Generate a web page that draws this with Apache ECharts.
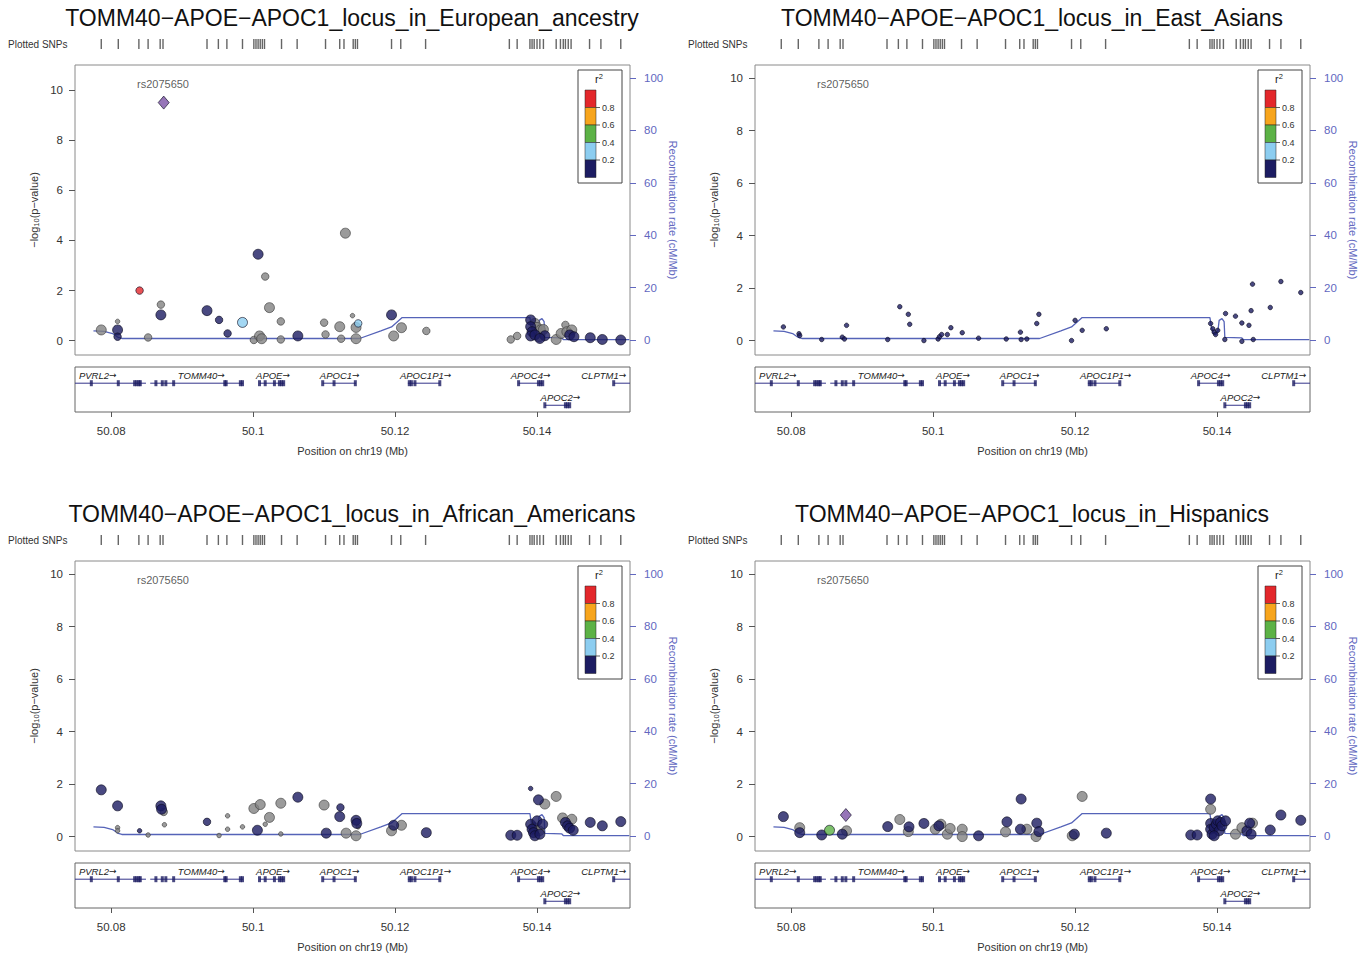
<!DOCTYPE html>
<html><head><meta charset="utf-8">
<script src="https://cdn.jsdelivr.net/npm/echarts@6/dist/echarts.min.js"></script>
<style>html,body{margin:0;padding:0;background:#fff}#c{width:1370px;height:955px}</style>
</head><body><div id="c"></div>
<script>
// ---------------- DATA ----------------
const panelTitles = [
  'TOMM40\u2212APOE\u2212APOC1_locus_in_European_ancestry',
  'TOMM40\u2212APOE\u2212APOC1_locus_in_East_Asians',
  'TOMM40\u2212APOE\u2212APOC1_locus_in_African_Americans',
  'TOMM40\u2212APOE\u2212APOC1_locus_in_Hispanics'
];
const refSnpName = 'rs2075650';
const refSnpPos = 50.0873;
const xTicks = [50.08, 50.1, 50.12, 50.14];
const pTicks = [0, 2, 4, 6, 8, 10];
const recombTicks = [0, 20, 40, 60, 80, 100];
const r2Breaks = [0.8, 0.6, 0.4, 0.2];

const plottedSnps = [50.0786,50.0810,50.0839,50.0852,50.0869,50.0873,50.0935,50.0951,50.0963,50.0985,
  50.1001,50.1004,50.1007,50.1010,50.1013,50.1016,50.1040,50.1062,50.1102,50.1122,50.1128,50.1141,
  50.1144,50.1147,50.1195,50.1208,50.1243,50.1361,50.1372,50.1390,50.1393,50.1396,50.1400,50.1404,
  50.1409,50.1427,50.1433,50.1437,50.1440,50.1444,50.1448,50.1474,50.1490,50.1518];

const recombPos  = [50.0775,50.0790,50.0802,50.0810,50.0815,50.1150,50.1180,50.1195,50.1210,50.1390,50.1392,50.1395,50.1398,50.1401,50.1403,50.1407,50.1410,50.1411,50.1435,50.1437,50.1530];
const recombRate = [3.5,    3.3,    2.5,    1.0,    0.6,    0.6,    3.5,    5.0,    8.6,    8.6,    5.0,    2.5,    2.0,    3.0,    7.5,    8.2,    7.0,    1.0,    0.8,    0.2,    0.2];

const geneNames   = ['PVRL2','TOMM40','APOE','APOC1','APOC1P1','APOC4','APOC2','CLPTM1'];
const geneStart   = [50.0700,50.0855,50.1009,50.1098,50.1218,50.1374,50.1411,50.1508];
const geneEnd     = [50.0849,50.0986,50.1044,50.1145,50.1263,50.1408,50.1446,50.1600];
const geneRow     = [0,0,0,0,0,0,1,0];
const geneLabelAt = [50.0781,50.0927,50.1028,50.1122,50.1243,50.1391,50.1433,50.1494];
const exonPos = [50.0772,50.0810,50.0833,50.0836,50.0839,50.0841,
  50.0863,50.0872,50.0877,50.0888,50.0960,50.0962,50.0982,50.0985,
  50.1009,50.1017,50.1030,50.1037,50.1040,50.1043,
  50.1098,50.1114,50.1144,
  50.1220,50.1223,50.1228,50.1263,
  50.1374,50.1402,50.1405,50.1408,
  50.1411,50.1440,50.1443,50.1446,
  50.1508];
const exonRow = [0,0,0,0,0,0, 0,0,0,0,0,0,0,0, 0,0,0,0,0,0, 0,0,0, 0,0,0,0, 0,0,0,0, 1,1,1,1, 0];

// points: [position (Mb), -log10 p, r2 class ('na' | 0..4 | 'ref'), marker weight class 1..3]
const eurPoints = [
  [50.0786,0.43,'na',3],[50.0809,0.77,'na',1],[50.0809,0.43,0,3],[50.0809,0.16,0,2],[50.0840,2.0,4,2],
  [50.0852,0.13,'na',2],[50.0870,1.44,'na',2],[50.0870,1.03,0,3],[50.0874,9.5,'ref',3],[50.0935,1.2,0,3],
  [50.0952,0.83,0,2],[50.0964,0.29,0,2],[50.0985,0.73,1,3],[50.1001,0.03,'na',2],[50.1007,3.45,0,3],
  [50.1009,0.19,'na',3],[50.1012,0.08,'na',3],[50.1017,2.56,'na',2],[50.1023,1.32,'na',3],[50.1039,0.77,'na',2],
  [50.1039,0.05,'na',2],[50.1063,0.19,0,3],[50.1100,0.72,'na',2],[50.1102,0.25,'na',2],[50.1122,0.56,'na',3],
  [50.1124,0.08,'na',2],[50.1130,4.29,'na',3],[50.1140,1.0,'na',1],[50.1145,0.53,'na',3],[50.1148,0.69,1,2],
  [50.1145,0.08,'na',3],[50.1195,1.03,0,3],[50.1198,0.19,'na',3],[50.1209,0.52,'na',3],[50.1244,0.39,'na',2],
  [50.1363,0.05,'na',2],[50.1372,0.19,'na',2],[50.1391,0.83,0,3],[50.1391,0.56,0,3],[50.1393,0.36,0,3],
  [50.1391,0.19,0,3],[50.1397,0.69,'na',3],[50.1400,0.53,'na',3],[50.1405,0.43,'na',3],[50.1403,0.16,'na',3],
  [50.1397,0.23,0,3],[50.1409,0.45,'na',3],[50.1411,0.2,0,3],[50.1404,0.09,0,3],[50.1427,0.05,'na',3],
  [50.1434,0.29,'na',3],[50.1440,0.63,'na',2],[50.1442,0.36,'na',3],[50.1446,0.23,0,3],[50.1449,0.43,'na',3],
  [50.1452,0.16,0,3],[50.1475,0.12,0,3],[50.1492,0.05,0,3],[50.1518,0.03,0,3]
];
const asnPoints = [
  [50.0789,0.52,0,1],[50.0811,0.26,0,1],[50.0812,0.19,0,1],[50.0843,0.04,0,1],[50.0872,0.13,0,1],
  [50.0875,0.06,0,1],[50.0878,0.58,0,1],[50.0936,0.04,0,1],[50.0953,1.29,0,1],[50.0965,1.0,0,1],
  [50.0967,0.62,0,1],[50.0987,0.0,0,1],[50.1007,0.06,0,1],[50.1009,0.15,0,1],[50.1012,0.23,0,1],
  [50.1020,0.23,0,1],[50.1025,0.49,0,1],[50.1041,0.3,0,1],[50.1064,0.09,0,1],[50.1103,0.06,0,1],
  [50.1123,0.32,0,1],[50.1124,0.04,0,1],[50.1132,0.06,0,1],[50.1146,0.65,0,1],[50.1149,1.0,0,1],
  [50.1195,0.0,0,1],[50.1200,0.77,0,1],[50.1210,0.39,0,1],[50.1244,0.45,0,1],[50.1391,0.65,0,1],
  [50.1394,0.45,0,1],[50.1396,0.32,0,1],[50.1398,0.23,0,1],[50.1401,0.39,0,1],[50.1412,1.03,0,1],
  [50.1411,0.04,0,1],[50.1426,0.93,0,1],[50.1435,0.67,0,1],[50.1435,-0.03,0,1],[50.1445,0.58,0,1],
  [50.1448,1.14,0,1],[50.1450,2.15,0,1],[50.1451,0.04,0,1],[50.1475,1.26,0,1],[50.1490,2.25,0,1],
  [50.1518,1.83,0,1]
];
const afrPoints = [
  [50.0786,1.78,0,3],[50.0809,1.17,0,3],[50.0809,0.34,'na',1],[50.0809,0.22,'na',1],[50.0840,0.22,0,1],
  [50.0852,0.06,'na',1],[50.0870,1.17,0,3],[50.0871,1.04,0,3],[50.0874,0.94,'na',2],[50.0875,0.45,'na',1],
  [50.0935,0.56,0,2],[50.0952,0.04,'na',1],[50.0964,0.79,'na',1],[50.0964,0.28,'na',1],[50.0985,0.37,'na',1],
  [50.1001,1.07,'na',3],[50.1010,1.22,'na',3],[50.1006,0.24,0,3],[50.1017,0.47,'na',1],[50.1023,0.73,'na',3],
  [50.1039,1.27,'na',3],[50.1039,0.1,'na',1],[50.1063,1.5,0,3],[50.1100,1.2,'na',3],[50.1123,1.11,0,2],
  [50.1122,0.76,0,3],[50.1103,0.13,0,3],[50.1131,0.13,'na',3],[50.1145,0.62,0,3],[50.1146,0.5,0,3],
  [50.1148,0.37,'na',1],[50.1145,0.03,'na',3],[50.1195,0.22,'na',3],[50.1198,0.43,0,3],[50.1209,0.43,'na',3],
  [50.1244,0.15,0,3],[50.1363,0.05,0,3],[50.1372,0.05,0,3],[50.1391,1.83,0,1],[50.1402,1.4,0,3],
  [50.1411,1.24,'na',3],[50.1427,1.53,'na',3],[50.1391,0.47,0,3],[50.1393,0.28,0,3],[50.1395,0.15,0,3],
  [50.1397,0.03,0,3],[50.1396,0.34,'na',3],[50.1400,0.6,0,3],[50.1403,0.22,'na',3],[50.1404,0.09,0,3],
  [50.1408,0.47,0,3],[50.1436,0.71,'na',3],[50.1440,0.54,0,3],[50.1443,0.41,0,3],[50.1449,0.66,'na',3],
  [50.1446,0.32,0,3],[50.1451,0.24,0,3],[50.1475,0.54,0,3],[50.1492,0.41,0,3],[50.1518,0.57,0,3]
];
const hisPoints = [
  [50.0789,0.76,0,3],[50.0812,0.34,'na',3],[50.0812,0.15,0,3],[50.0843,0.06,0,3],[50.0854,0.24,2,3],
  [50.0872,0.09,0,3],[50.0878,0.22,'na',3],[50.0877,0.82,'ref',3],[50.0936,0.38,0,3],[50.0953,0.65,'na',3],
  [50.0966,0.37,0,3],[50.0965,0.19,'na',3],[50.0987,0.5,0,3],[50.1003,0.28,'na',3],[50.1008,0.41,0,3],
  [50.1011,0.47,'na',3],[50.1020,0.09,'na',3],[50.1024,0.31,'na',3],[50.1041,0.28,'na',3],[50.1041,0.0,'na',3],
  [50.1064,0.03,0,3],[50.1102,0.18,'na',3],[50.1104,0.56,0,3],[50.1123,0.28,0,3],[50.1124,1.43,0,3],
  [50.1132,0.28,'na',3],[50.1145,0.0,'na',3],[50.1146,0.51,0,3],[50.1149,0.19,0,3],[50.1196,0.03,'na',3],
  [50.1199,0.09,0,3],[50.1210,1.53,'na',3],[50.1244,0.13,0,3],[50.1363,0.06,0,3],[50.1372,0.06,0,3],
  [50.1391,1.04,'na',3],[50.1391,1.43,0,3],[50.1391,0.5,0,3],[50.1391,0.28,0,3],[50.1393,0.09,0,3],
  [50.1396,0.34,0,3],[50.1399,0.47,0,3],[50.1401,0.6,0,3],[50.1405,0.54,0,3],[50.1403,0.22,0,3],
  [50.1407,0.41,0,3],[50.1412,0.6,0,3],[50.1396,0.03,0,3],[50.1426,0.09,'na',3],[50.1435,0.34,'na',3],
  [50.1442,0.22,0,3],[50.1446,0.51,0,3],[50.1450,0.51,'na',3],[50.1448,0.09,0,3],[50.1475,0.25,0,3],
  [50.1490,0.82,0,3],[50.1518,0.62,0,3]
];

// ---------------- LAYOUT / STYLE ----------------
const FONT = '"Liberation Sans", Arial, Helvetica, sans-serif';
const X0 = 50.0749, X1 = 50.1531;
const colorOf = {na:'#828282', 0:'#1c1c62', 1:'#8ccdf0', 2:'#5cb246', 3:'#f7a51d', 4:'#e3272b', ref:'#7c53a6'};
const legendColors = ['#e3272b','#f7a51d','#5cb246','#8ccdf0','#1c1c62'];
const sizeOf = {1:4.5, 2:7.5, 3:10};
const rowY = [0.64, 0.15];
const order = {na:0, 0:1, 1:2, 2:3, 3:4, 4:5, ref:6};
const BLUE = '#6268bf';

const panels = [
  {title:panelTitles[0], pts:eurPoints, ox:0,   oy:0,   ymin:-0.57, ymax:11.0},
  {title:panelTitles[1], pts:asnPoints, ox:680, oy:0,   ymin:-0.55, ymax:10.5},
  {title:panelTitles[2], pts:afrPoints, ox:0,   oy:496, ymin:-0.55, ymax:10.5},
  {title:panelTitles[3], pts:hisPoints, ox:680, oy:496, ymin:-0.55, ymax:10.5}
];

function pointItem(p){
  const [x,y,ld,w] = p;
  const ref = ld === 'ref';
  return {
    value:[x,y],
    symbol: ref ? 'diamond' : 'circle',
    symbolSize: ref ? [11,13] : sizeOf[w],
    itemStyle:{color:colorOf[ld], borderColor: ld==='na' ? '#3a3a3a' : '#0a0a1e', borderWidth:0.8}
  };
}

const grid=[], xAxis=[], yAxis=[], series=[], graphic=[];
panels.forEach((P,i)=>{
  const ox=P.ox, oy=P.oy, gi=3*i, yi=4*i;
  grid.push({left:75+ox, top:39+oy, width:555, height:10, show:false});
  grid.push({left:75+ox, top:65+oy, width:555, height:290, show:true, borderColor:'#8a8a8a', borderWidth:1, backgroundColor:'transparent'});
  grid.push({left:75+ox, top:367+oy, width:555, height:45, show:true, borderColor:'#666', borderWidth:1, backgroundColor:'transparent'});
  const baseX = {type:'value', min:X0, max:X1, axisLine:{show:false}, axisTick:{show:false}, axisLabel:{show:false}, splitLine:{show:false}};
  xAxis.push(Object.assign({}, baseX, {gridIndex:gi}));
  xAxis.push(Object.assign({}, baseX, {gridIndex:gi+1}));
  xAxis.push(Object.assign({}, baseX, {gridIndex:gi+2,
    axisTick:{show:true, customValues:xTicks, length:5, lineStyle:{color:'#555'}},
    axisLabel:{show:true, customValues:xTicks, margin:13, fontSize:11.5, color:'#333', fontFamily:FONT,
      formatter:v=>String(+(+v).toFixed(2))},
    name:'Position on chr19 (Mb)', nameLocation:'middle', nameGap:33,
    nameTextStyle:{fontSize:11, color:'#333', fontFamily:FONT}}));

  yAxis.push({type:'value', gridIndex:gi, min:0, max:1, show:false});
  yAxis.push({type:'value', gridIndex:gi+1, position:'left', min:P.ymin, max:P.ymax,
    axisLine:{show:false}, splitLine:{show:false},
    axisTick:{show:true, customValues:pTicks, length:6, lineStyle:{color:'#555'}},
    axisLabel:{customValues:pTicks, margin:12, fontSize:11.5, color:'#333', fontFamily:FONT},
    name:'\u2212log{s|10}(p\u2212value)', nameLocation:'middle', nameGap:35,
    nameTextStyle:{fontSize:11, color:'#333', fontFamily:FONT,
      rich:{s:{fontSize:7.5, color:'#333', fontFamily:FONT, padding:[5,0,0,0]}}}});
  yAxis.push({type:'value', gridIndex:gi+1, position:'right', min:-5.7, max:105,
    axisLine:{show:false}, splitLine:{show:false},
    axisTick:{show:true, customValues:recombTicks, length:6, lineStyle:{color:BLUE}},
    axisLabel:{customValues:recombTicks, margin:14, fontSize:11.5, color:BLUE, fontFamily:FONT},
    name:'Recombination rate (cM/Mb)', nameLocation:'middle', nameGap:34, nameRotate:-90,
    nameTextStyle:{fontSize:11, color:BLUE, fontFamily:FONT}});
  yAxis.push({type:'value', gridIndex:gi+2, min:0, max:1, show:false});

  series.push({type:'scatter', xAxisIndex:gi, yAxisIndex:yi, silent:true, animation:false,
    data: plottedSnps.map(x=>[x,0.5]), symbol:'rect', symbolSize:[1.4,10], itemStyle:{color:'#3f3f3f'}});
  series.push({type:'line', xAxisIndex:gi+1, yAxisIndex:yi+2, silent:true, animation:false, z:2,
    data: recombPos.map((x,k)=>[x,recombRate[k]]), showSymbol:false, symbol:'none',
    lineStyle:{color:'#5563b8', width:1.3}});
  const sorted = P.pts.slice().sort((a,b)=>order[a[2]]-order[b[2]]);
  series.push({type:'scatter', xAxisIndex:gi+1, yAxisIndex:yi+1, silent:true, animation:false, z:3,
    data: sorted.map(pointItem)});
  const labelY = P.ymax - (84-65)/290*(P.ymax-P.ymin);
  series.push({type:'scatter', xAxisIndex:gi+1, yAxisIndex:yi+1, silent:true, animation:false, z:4,
    data:[[refSnpPos, labelY]], symbolSize:1, itemStyle:{color:'transparent'},
    label:{show:true, position:'inside', formatter:refSnpName, fontSize:11, color:'#333', fontFamily:FONT}});
  series.push({type:'custom', xAxisIndex:gi+2, yAxisIndex:yi+3, silent:true, animation:false,
    data: geneNames.map((n,k)=>[geneStart[k], geneEnd[k], rowY[geneRow[k]], geneLabelAt[k], k]),
    renderItem:(params, api)=>{
      const k = api.value(4), y = api.value(2);
      const a = api.coord([api.value(0), y]), b = api.coord([api.value(1), y]);
      const cs = params.coordSys;
      const x1 = Math.max(a[0], cs.x), x2 = Math.min(b[0], cs.x+cs.width);
      const lp = api.coord([api.value(3), y]);
      return {type:'group', children:[
        {type:'line', shape:{x1:x1, y1:a[1], x2:x2, y2:a[1]}, style:{stroke:'#34348a', lineWidth:1}},
        {type:'text', x:lp[0], y:a[1]-8, style:{text:'{n|'+geneNames[k]+'}{a|\u2192}', fontSize:9.5, fontStyle:'italic',
          fill:'#222', align:'center', verticalAlign:'middle', fontFamily:FONT,
          rich:{n:{fontSize:9.5, fontStyle:'italic', fontFamily:FONT, fill:'#222'},
                a:{fontSize:9, fontFamily:'"DejaVu Sans", sans-serif', fill:'#222'}}}}
      ]};
    }});
  series.push({type:'scatter', xAxisIndex:gi+2, yAxisIndex:yi+3, silent:true, animation:false, z:3,
    data: exonPos.map((x,k)=>[x, rowY[exonRow[k]]]), symbol:'rect', symbolSize:[3,6], itemStyle:{color:'#1c1c62'}});

  // titles and labels
  graphic.push({type:'text', x:352+ox, y:18+oy, silent:true,
    style:{text:P.title, fontSize:23, fontFamily:FONT, fill:'#111', align:'center', verticalAlign:'middle'}});
  graphic.push({type:'text', x:8+ox, y:44+oy, silent:true,
    style:{text:'Plotted SNPs', fontSize:10, fontFamily:FONT, fill:'#333', align:'left', verticalAlign:'middle'}});
  // r2 legend
  const lx = 578+ox, ly = 70+oy;
  const ch = [{type:'rect', shape:{x:lx, y:ly, width:44, height:113}, style:{fill:'#fff', stroke:'#444', lineWidth:1}},
    {type:'text', x:lx+21, y:ly+9, style:{text:'r{s|2}', fontSize:11, fontFamily:FONT, fill:'#222', align:'center', verticalAlign:'middle',
      rich:{s:{fontSize:7.5, fontFamily:FONT, fill:'#222', verticalAlign:'top', padding:[0,0,6,0]}}}}];
  legendColors.forEach((c,j)=>{
    ch.push({type:'rect', shape:{x:lx+7, y:ly+20+17.5*j, width:11, height:17.5}, style:{fill:c, stroke:'#222', lineWidth:0.5}});
  });
  r2Breaks.forEach((v,j)=>{
    const yy = ly+20+17.5*(j+1);
    ch.push({type:'line', shape:{x1:lx+18, y1:yy, x2:lx+22, y2:yy}, style:{stroke:'#333', lineWidth:0.8}});
    ch.push({type:'text', x:lx+24, y:yy, style:{text:String(v), fontSize:9, fontFamily:FONT, fill:'#333', align:'left', verticalAlign:'middle'}});
  });
  graphic.push({type:'group', z:100, silent:true, children:ch});
});

const chart = echarts.init(document.getElementById('c'), null, {renderer:'svg', width:1370, height:955});
chart.setOption({backgroundColor:'#fff', animation:false, grid, xAxis, yAxis, series, graphic});
</script>
</body></html>
